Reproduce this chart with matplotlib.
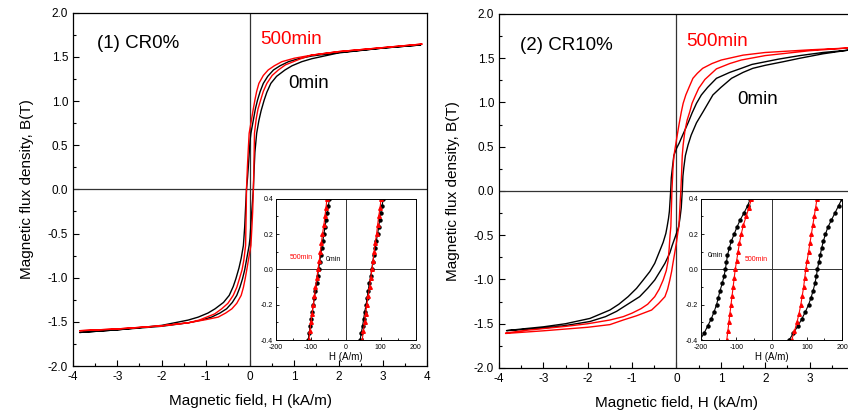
import numpy as np
import matplotlib.pyplot as plt
from matplotlib.ticker import MultipleLocator

plt.rcParams['font.family'] = ['Liberation Sans', 'DejaVu Sans']
plt.rcParams['axes.unicode_minus'] = False

# ---- main loops, H in kA/m, B in T ----
# (1) CR0%, 0min
cr0_black_dn_H = [3.85, 3.0, 2.0, 1.39, 1.1, 0.87, 0.68, 0.53, 0.4, 0.3, 0.23, 0.17, 0.12, 0.08, 0.02, 0.0, -0.03,
                  -0.055, -0.08, -0.10, -0.12, -0.15, -0.2, -0.25, -0.32, -0.38, -0.47, -0.6, -0.79, -0.95, -1.17,
                  -1.4, -2.0, -3.0, -3.85]
cr0_black_dn_B = [1.635, 1.60, 1.55, 1.51, 1.48, 1.446, 1.40, 1.352, 1.28, 1.20, 1.11, 1.012, 0.91, 0.80, 0.635,
                  0.55, 0.32, 0.14, 0.0, -0.2, -0.42, -0.635, -0.78, -0.89, -1.012, -1.10, -1.20, -1.28, -1.352,
                  -1.40, -1.446, -1.48, -1.54, -1.59, -1.62]
cr0_black_up_H = [-3.85, -3.0, -2.0, -1.39, -1.1, -0.87, -0.68, -0.53, -0.4, -0.3, -0.23, -0.17, -0.12, -0.08, -0.02,
                  0.0, 0.03, 0.055, 0.075, 0.09, 0.11, 0.15, 0.2, 0.25, 0.32, 0.38, 0.47, 0.6, 0.79, 0.95, 1.17,
                  1.4, 2.0, 3.0, 3.85]
cr0_black_up_B = [-1.62, -1.59, -1.55, -1.51, -1.48, -1.446, -1.40, -1.352, -1.28, -1.20, -1.11, -1.012, -0.91,
                  -0.80, -0.635, -0.55, -0.32, -0.14, 0.0, 0.2, 0.42, 0.635, 0.78, 0.89, 1.012, 1.10, 1.20, 1.28,
                  1.352, 1.40, 1.446, 1.48, 1.545, 1.60, 1.635]
# (1) CR0%, 500min
cr0_red_dn_H = [3.88, 3.0, 2.0, 1.39, 1.0, 0.72, 0.55, 0.41, 0.3, 0.2, 0.15, 0.11, 0.07, 0.03, -0.02, -0.04, -0.06,
                -0.08, -0.085, -0.093, -0.10, -0.14, -0.18, -0.24, -0.3, -0.38, -0.5, -0.64, -0.8, -0.98, -1.15,
                -1.39, -2.0, -3.0, -3.85]
cr0_red_dn_B = [1.645, 1.605, 1.56, 1.52, 1.485, 1.446, 1.40, 1.352, 1.29, 1.20, 1.11, 1.012, 0.90, 0.78, 0.635,
                0.45, 0.25, 0.0, -0.2, -0.42, -0.635, -0.80, -0.91, -1.012, -1.11, -1.20, -1.29, -1.352, -1.41,
                -1.446, -1.48, -1.51, -1.545, -1.58, -1.60]
cr0_red_up_H = [-3.85, -3.0, -2.0, -1.39, -1.0, -0.72, -0.55, -0.41, -0.3, -0.2, -0.15, -0.11, -0.07, -0.03, 0.02,
                0.04, 0.06, 0.075, 0.085, 0.093, 0.10, 0.14, 0.18, 0.24, 0.3, 0.38, 0.5, 0.64, 0.8, 0.98, 1.15,
                1.39, 2.0, 3.0, 3.88]
cr0_red_up_B = [-1.60, -1.58, -1.545, -1.51, -1.475, -1.446, -1.40, -1.352, -1.29, -1.20, -1.11, -1.012, -0.90,
                -0.78, -0.635, -0.45, -0.25, 0.0, 0.2, 0.42, 0.635, 0.80, 0.91, 1.012, 1.11, 1.20, 1.29, 1.352,
                1.41, 1.446, 1.48, 1.52, 1.56, 1.605, 1.645]

# (2) CR10%, 0min
cr10_black_dn_H = [3.85, 3.3, 2.78, 2.3, 2.0, 1.7, 1.46, 1.2, 0.9, 0.7, 0.56, 0.45, 0.35, 0.27, 0.2, 0.12, 0.06,
                   0.0, -0.03, -0.06, -0.093, -0.117, -0.131, -0.146, -0.16, -0.18, -0.21, -0.24, -0.3, -0.38,
                   -0.49, -0.6, -0.75, -0.9, -1.09, -1.3, -1.5, -1.95, -2.5, -3.0, -3.4, -3.83]
cr10_black_dn_B = [1.59, 1.565, 1.53, 1.49, 1.46, 1.43, 1.386, 1.34, 1.273, 1.17, 1.085, 0.99, 0.88, 0.78, 0.70,
                   0.61, 0.54, 0.48, 0.44, 0.40, 0.26, 0.15, 0.0, -0.12, -0.23, -0.31, -0.40, -0.48, -0.58, -0.68,
                   -0.817, -0.91, -1.006, -1.10, -1.194, -1.28, -1.345, -1.44, -1.50, -1.535, -1.555, -1.578]
cr10_black_up_H = [-3.83, -3.0, -2.5, -1.95, -1.6, -1.35, -1.1, -0.83, -0.65, -0.49, -0.36, -0.26, -0.15, -0.1,
                   -0.03, 0.02, 0.05, 0.078, 0.107, 0.13, 0.145, 0.164, 0.2, 0.26, 0.33, 0.45, 0.6, 0.82, 1.0, 1.24,
                   1.5, 1.72, 2.0, 2.4, 2.78, 3.3, 3.85]
cr10_black_up_B = [-1.578, -1.55, -1.52, -1.475, -1.42, -1.36, -1.28, -1.194, -1.10, -1.006, -0.90, -0.817,
                   -0.70, -0.62, -0.52, -0.45, -0.4, -0.31, -0.19, 0.0, 0.17, 0.26, 0.4, 0.52, 0.63, 0.77, 0.896,
                   1.085, 1.17, 1.273, 1.34, 1.386, 1.42, 1.46, 1.50, 1.55, 1.59]
# (2) CR10%, 500min
cr10_red_dn_H = [3.85, 3.0, 2.0, 1.5, 1.01, 0.8, 0.59, 0.47, 0.37, 0.29, 0.21, 0.15, 0.11, 0.06, 0.02, -0.01,
                 -0.035, -0.057, -0.079, -0.103, -0.127, -0.145, -0.165, -0.19, -0.23, -0.3, -0.39, -0.49, -0.65,
                 -0.8, -1.0, -1.2, -1.5, -2.0, -2.5, -3.0, -3.4, -3.85]
cr10_red_dn_B = [1.615, 1.595, 1.565, 1.535, 1.48, 1.44, 1.386, 1.33, 1.273, 1.18, 1.085, 0.99, 0.896, 0.76, 0.64,
                 0.55, 0.47, 0.4, 0.26, 0.0, -0.4, -0.5, -0.65, -0.79, -0.90, -1.006, -1.11, -1.194, -1.28, -1.33,
                 -1.38, -1.42, -1.458, -1.50, -1.53, -1.555, -1.575, -1.605]
cr10_red_up_H = [-3.85, -3.0, -2.5, -2.0, -1.5, -1.2, -0.9, -0.56, -0.4, -0.26, -0.2, -0.15, -0.11, -0.08, -0.04,
                 0.0, 0.03, 0.054, 0.075, 0.097, 0.115, 0.13, 0.15, 0.19, 0.24, 0.30, 0.35, 0.41, 0.5, 0.64, 0.9,
                 1.2, 1.46, 2.0, 3.0, 3.85]
cr10_red_up_B = [-1.61, -1.58, -1.56, -1.54, -1.51, -1.458, -1.41, -1.345, -1.27, -1.194, -1.11, -1.006, -0.91,
                 -0.817, -0.70, -0.58, -0.47, -0.4, -0.2, 0.0, 0.2, 0.4, 0.52, 0.68, 0.8, 0.896, 0.99, 1.06, 1.16,
                 1.26, 1.38, 1.44, 1.48, 1.53, 1.585, 1.615]

# ---- inset loops, H in A/m ----
ins_B_black = [-0.4, -0.36, -0.32, -0.28, -0.24, -0.2, -0.16, -0.12, -0.08, -0.04, 0.0,
               0.04, 0.08, 0.12, 0.16, 0.2, 0.24, 0.28, 0.32, 0.36, 0.4]
ins_B_red = [-0.4, -0.35, -0.3, -0.25, -0.2, -0.15, -0.1, -0.05, 0.0, 0.05, 0.1, 0.15, 0.2, 0.25, 0.3, 0.35, 0.4]

cr0_ins_black_left = [-108, -105, -102, -99, -96, -93, -90, -87, -84, -81, -78,
                      -75, -72, -69, -66, -63, -59.5, -56.5, -53.5, -50, -47]
cr0_ins_black_right = [41, 44, 48, 51, 54, 58, 61, 64, 67, 71, 74,
                       77, 80, 84, 87, 91, 94, 97, 100, 104, 107]
cr0_ins_red_left = [-106, -103, -100, -97, -93, -90, -87, -83, -80, -76, -73, -70, -67, -63, -60, -57, -54]
cr0_ins_red_right = [47, 50, 54, 57, 60, 64, 68, 71, 75, 78, 81, 84, 88, 91, 94, 98, 101]

cr10_ins_black_left = [-203, -191, -181, -171, -163, -156, -151, -146, -140, -135, -131,
                       -128, -125, -120, -114, -106, -98, -89, -78, -68, -60]
cr10_ins_black_right = [50, 62, 75, 86, 96, 105, 112, 118, 123, 127, 130,
                        134, 138, 142, 147, 153, 160, 170, 180, 190, 200]
cr10_ins_red_left = [-127, -124, -121, -118, -115, -112, -109, -106, -103, -99, -95, -91, -86, -80, -72, -64, -57]
cr10_ins_red_right = [57, 65, 72, 78, 83, 87, 91, 94, 97, 101, 105, 109, 113, 117, 121, 125, 129]

x_ticks = [-4, -3, -2, -1, 0, 1, 2, 3, 4]

fig = plt.figure(figsize=(8.48, 4.15), dpi=100)


def style_main(ax, show_last=True):
    ax.set_xlim(-4, 4)
    ax.set_ylim(-2, 2)
    labels = [str(t) for t in x_ticks]
    if not show_last:
        labels[-1] = ''
    ax.set_xticks(x_ticks, labels)
    ax.xaxis.set_minor_locator(MultipleLocator(0.5))
    ax.yaxis.set_major_locator(MultipleLocator(0.5))
    ax.yaxis.set_minor_locator(MultipleLocator(0.25))
    ax.tick_params(which='both', direction='in', labelsize=8.5, width=0.8)
    ax.tick_params(which='major', length=4)
    ax.tick_params(which='minor', length=2.5)
    ax.axhline(0, color='#333333', lw=0.9)
    ax.axvline(0, color='#333333', lw=0.9)
    ax.set_xlabel('Magnetic field, H (kA/m)', fontsize=11, labelpad=8)
    ax.set_ylabel('Magnetic flux density, B(T)', fontsize=11, labelpad=10)
    for s in ax.spines.values():
        s.set_linewidth(0.9)


def style_inset(ax):
    ax.set_xlim(-200, 200)
    ax.set_ylim(-0.4, 0.4)
    ax.xaxis.set_major_locator(MultipleLocator(100))
    ax.xaxis.set_minor_locator(MultipleLocator(50))
    ax.yaxis.set_major_locator(MultipleLocator(0.2))
    ax.yaxis.set_minor_locator(MultipleLocator(0.1))
    ax.tick_params(which='both', direction='in', labelsize=5, width=0.6)
    ax.tick_params(axis='x', pad=3)
    ax.tick_params(axis='y', pad=2)
    ax.tick_params(which='major', length=2.5)
    ax.tick_params(which='minor', length=1.5)
    ax.axhline(0, color='#333333', lw=0.7)
    ax.axvline(0, color='#333333', lw=0.7)
    ax.set_xlabel('H (A/m)', fontsize=7, labelpad=0.5)
    for s in ax.spines.values():
        s.set_linewidth(0.7)


panels = [
    dict(pos=[0.0861, 0.118, 0.4175, 0.8513], ins=[0.3255, 0.1807, 0.1647, 0.3405], last=True,
         black=(cr0_black_dn_H, cr0_black_dn_B, cr0_black_up_H, cr0_black_up_B),
         red=(cr0_red_dn_H, cr0_red_dn_B, cr0_red_up_H, cr0_red_up_B),
         ins_black=(cr0_ins_black_left, cr0_ins_black_right),
         ins_red=(cr0_ins_red_left, cr0_ins_red_right),
         title='(1) CR0%', title_xy=(-3.46, 1.65), red_xy=(0.23, 1.70), black_xy=(0.86, 1.20),
         ins_red_xy=(-129, 0.066), ins_black_xy=(-36, 0.053)),
    dict(pos=[0.5884, 0.1133, 0.4187, 0.853], ins=[0.8267, 0.1807, 0.1663, 0.3405], last=False,
         black=(cr10_black_dn_H, cr10_black_dn_B, cr10_black_up_H, cr10_black_up_B),
         red=(cr10_red_dn_H, cr10_red_dn_B, cr10_red_up_H, cr10_red_up_B),
         ins_black=(cr10_ins_black_left, cr10_ins_black_right),
         ins_red=(cr10_ins_red_left, cr10_ins_red_right),
         title='(2) CR10%', title_xy=(-3.53, 1.64), red_xy=(0.21, 1.69), black_xy=(1.37, 1.03),
         ins_red_xy=(-44, 0.053), ins_black_xy=(-160, 0.078)),
]

for p in panels:
    ax = fig.add_axes(p['pos'])
    style_main(ax, p['last'])
    for key, col in (('black', 'black'), ('red', 'red')):
        dH, dB, uH, uB = p[key]
        ax.plot(np.r_[dH, uH], np.r_[dB, uB], color=col, lw=1.0)
    ax.text(*p['title_xy'], p['title'], fontsize=13.5, va='center', ha='left')
    ax.text(*p['red_xy'], '500min', fontsize=13.5, color='red', va='center', ha='left')
    ax.text(*p['black_xy'], '0min', fontsize=13.5, color='black', va='center', ha='left')

    ai = fig.add_axes(p['ins'])
    style_inset(ai)
    for h in p['ins_black']:
        ai.plot(h, ins_B_black, color='black', lw=0.8, marker='o', ms=2.2)
    for h in p['ins_red']:
        ai.plot(h, ins_B_red, color='red', lw=0.8, marker='^', ms=2.6)
    ai.text(*p['ins_red_xy'], '500min', fontsize=5, color='red', ha='center', va='center')
    ai.text(*p['ins_black_xy'], '0min', fontsize=5, color='black', ha='center', va='center')

fig.savefig('out.png', dpi=100)
